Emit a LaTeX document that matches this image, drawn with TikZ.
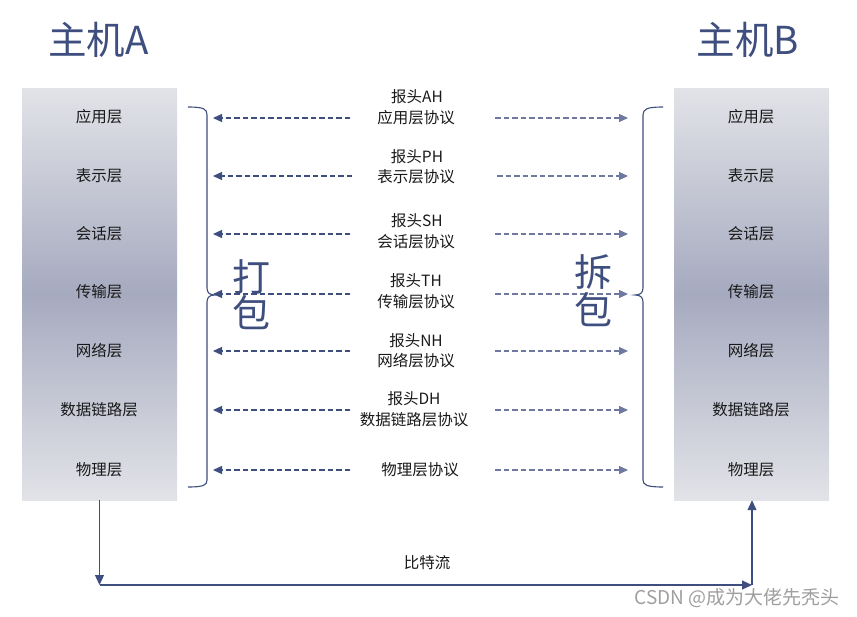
\documentclass[tikz,border=0pt]{standalone}
\usepackage{fontspec}
\setmainfont{Noto Sans CJK SC}
\usetikzlibrary{arrows.meta}
\definecolor{navy}{RGB}{62,78,126}
\definecolor{navylight}{RGB}{110,120,160}
\definecolor{boxtop}{RGB}{226,227,232}
\definecolor{boxmid}{RGB}{166,170,191}
\definecolor{txt}{RGB}{25,25,25}
\begin{document}
\begin{tikzpicture}[x=1pt,y=-1pt,
  hostbox/.style={shade, top color=boxtop, bottom color=boxtop, middle color=boxmid,
    minimum width=155pt, minimum height=412pt, inner sep=0pt, draw=none},
  layer/.style={font=\fontsize{15.5pt}{18pt}\selectfont, text=txt, inner sep=0pt},
  proto/.style={font=\fontsize{15.5pt}{18pt}\selectfont, text=txt, inner sep=0pt},
  title/.style={font=\fontsize{38.5pt}{42pt}\selectfont, text=navy, inner sep=0pt},
  big/.style={font=\fontsize{38pt}{42pt}\selectfont, text=navy, inner sep=0pt},
  darrL/.style={draw=navy, line width=1.1pt, dash pattern=on 5.5pt off 3pt, -{Triangle[length=9pt,width=8pt]}},
  darrR/.style={draw=navylight, line width=1.1pt, dash pattern=on 5.5pt off 3pt, -{Triangle[length=9pt,width=8pt]}},
  brc/.style={draw=navy, line width=1.1pt},
  solidarr/.style={draw=navy, line width=1.1pt, -{Triangle[length=10pt,width=9pt]}}
]
\useasboundingbox (0,0) rectangle (857,616);
\fill[white] (0,0) rectangle (857,616);

% titles
\node[title] (tA) at (98.5,40) {主机A};
\node[title] (tB) at (748,40) {主机B};

% host boxes
\node[hostbox] (A) at (99.5,294) {};
\node[hostbox] (B) at (751.5,294) {};

% layers
\foreach \n/\y/\t in {1/117/应用层,2/176/表示层,3/234/会话层,4/292/传输层,5/351/网络层,6/410/数据链路层,7/470/物理层}{
  \node[layer] (a\n) at (99,\y) {\t};
  \node[layer] (b\n) at (751,\y) {\t};
}

% protocol labels
\node[proto] (h1) at (417,97) {报头AH};
\node[proto] (p1) at (416,118) {应用层协议};
\node[proto] (h2) at (417,157) {报头PH};
\node[proto] (p2) at (416,177) {表示层协议};
\node[proto] (h3) at (417,221) {报头SH};
\node[proto] (p3) at (416,242) {会话层协议};
\node[proto] (h4) at (416,281) {报头TH};
\node[proto] (p4) at (416,302) {传输层协议};
\node[proto] (h5) at (416,341) {报头NH};
\node[proto] (p5) at (416,361) {网络层协议};
\node[proto] (h6) at (414,399) {报头DH};
\node[proto] (p6) at (414,420) {数据链路层协议};
\node[proto] (p7) at (420,470) {物理层协议};

% arrows
\foreach \n/\y/\xs/\xe in {1/118/350/495,2/176/352/497,3/234/350/495,4/294/350/495,5/351/350/495,6/410/350/495,7/470/350/495}{
  \coordinate (ls\n) at (\xs,\y);
  \coordinate (le\n) at (213,\y);
  \coordinate (rs\n) at (\xe,\y);
  \coordinate (re\n) at (628,\y);
  \draw[darrL] (ls\n) -- (le\n);
  \draw[darrR] (rs\n) -- (re\n);
}

% braces
\draw[brc] (188,107) .. controls (204,107) and (207,109) .. (207,115) -- (207,288)
  .. controls (207,293) and (210,295) .. (215,295)
  .. controls (210,295) and (207,297) .. (207,302) -- (207,480)
  .. controls (207,485) and (204,487) .. (188,487);
\draw[brc] (663,107) .. controls (647,107) and (643,109) .. (643,115) -- (643,288)
  .. controls (643,293) and (640,295) .. (635,295)
  .. controls (640,295) and (643,297) .. (643,302) -- (643,480)
  .. controls (643,485) and (647,487) .. (663,487);

% big characters
\node[big] (da) at (251,277) {打};
\node[big] (bao1) at (251,313) {包};
\node[big] (chai) at (593,272) {拆};
\node[big] (bao2) at (593,310) {包};

% bit stream
\coordinate (bl) at (99.5,585);
\coordinate (br) at (752,585);
\draw[solidarr] (A.south) -- (bl);
\draw[solidarr] (bl) -- (br);
\draw[solidarr] (br) -- (B.south -| br);
\node[proto] (bits) at (427,563) {比特流};

% watermark
\node[font=\fontsize{19pt}{22pt}\selectfont, text=gray!75, inner sep=0pt] (wm) at (737,598) {CSDN @成为大佬先秃头};
\end{tikzpicture}
\end{document}
